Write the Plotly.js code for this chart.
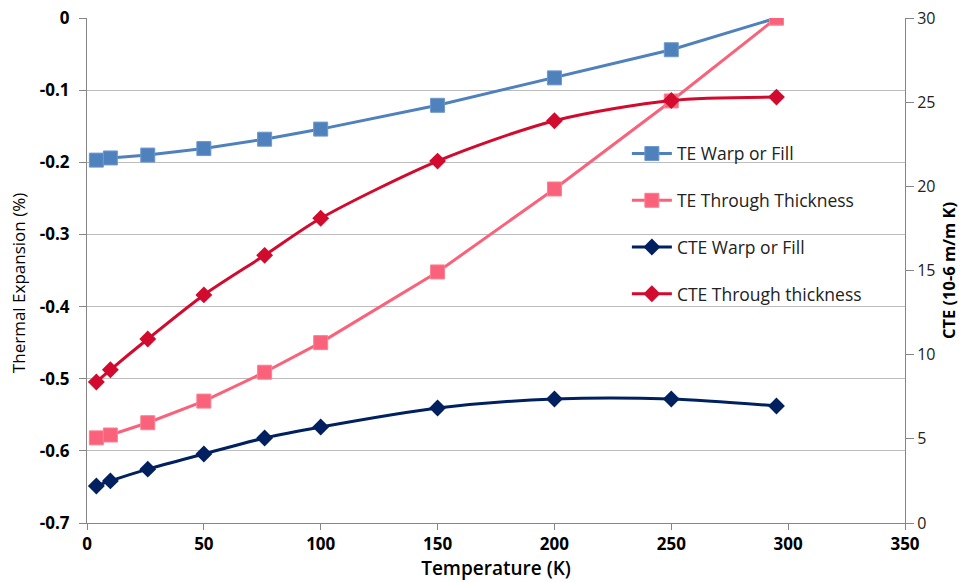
<!DOCTYPE html>
<html>
<head>
<meta charset="utf-8">
<script src="https://cdn.plot.ly/plotly-3.0.1.min.js"></script>
<style>html,body{margin:0;padding:0;background:#fff;}#chart{width:960px;height:582px;}</style>
</head>
<body>
<div id="chart"></div>
<script>
const temperature = [4, 10, 26, 50, 76, 100, 150, 200, 250, 295];
const teWarpFill = [-0.197, -0.194, -0.190, -0.181, -0.168, -0.154, -0.121, -0.083, -0.044, 0];
const teThroughThickness = [-0.582, -0.578, -0.561, -0.531, -0.491, -0.450, -0.352, -0.237, -0.115, 0];
const cteWarpFill = [2.2, 2.5, 3.2, 4.1, 5.05, 5.7, 6.83, 7.37, 7.37, 6.95];
const cteThroughThickness = [8.38, 9.1, 10.93, 13.55, 15.9, 18.1, 21.5, 23.9, 25.1, 25.3];
const leftTickVals = [0, -0.1, -0.2, -0.3, -0.4, -0.5, -0.6, -0.7];
const leftTickText = ['0', '-0.1', '-0.2', '-0.3', '-0.4', '-0.5', '-0.6', '-0.7'];
const seriesNames = ['TE Warp or Fill', 'TE Through Thickness', 'CTE Warp or Fill', 'CTE Through thickness'];

const font = '"Open Sans", Lato, sans-serif';
const traces = [
  {x: temperature, y: teWarpFill, name: seriesNames[0], legendgroup: 'a', type: 'scatter', mode: 'lines+markers',
   line: {color: '#4F81BD', width: 3}, marker: {symbol: 'square', size: 14, color: '#4F81BD', line: {color: '#6E97CC', width: 1}}},
  {x: temperature, y: teThroughThickness, name: seriesNames[1], legendgroup: 'b', type: 'scatter', mode: 'lines+markers',
   line: {color: '#F9627A', width: 3}, marker: {symbol: 'square', size: 14, color: '#F9627A', line: {color: '#FB8092', width: 1}}},
  {x: temperature, y: cteWarpFill, name: seriesNames[2], legendgroup: 'c', yaxis: 'y2', type: 'scatter', mode: 'lines+markers',
   line: {color: '#002060', width: 3, shape: 'spline', smoothing: 0.8}, marker: {symbol: 'diamond', size: 13, color: '#002060'}},
  {x: temperature, y: cteThroughThickness, name: seriesNames[3], legendgroup: 'd', yaxis: 'y2', type: 'scatter', mode: 'lines+markers',
   line: {color: '#D20A2E', width: 3, shape: 'spline', smoothing: 0.8}, marker: {symbol: 'diamond', size: 13, color: '#D20A2E'}}
];

const layout = {
  width: 960, height: 582,
  margin: {l: 87, r: 55, t: 18, b: 59},
  paper_bgcolor: '#fff', plot_bgcolor: '#fff',
  font: {family: font, color: '#000', size: 15},
  showlegend: true,
  legend: {x: 0.66, y: 0.767, xanchor: 'left', yanchor: 'top', bgcolor: 'rgba(0,0,0,0)',
           font: {family: font, size: 17.5, color: '#222'}, tracegroupgap: 21, itemwidth: 40},
  xaxis: {range: [0, 350], tickvals: [0, 50, 100, 150, 200, 250, 300, 350], showgrid: false, zeroline: false,
          showline: true, linecolor: '#868686', linewidth: 1, ticks: 'outside', ticklen: 6, tickcolor: '#868686',
          tickfont: {family: font, size: 17, weight: 'bold'},
          title: {text: 'Temperature (K)', font: {family: font, size: 19, weight: 600}, standoff: 5}},
  yaxis: {range: [-0.7, 0], tickvals: leftTickVals, ticktext: leftTickText, showgrid: true, gridcolor: '#BDBDBD', gridwidth: 1,
          zeroline: false, showline: true, linecolor: '#868686', ticks: 'outside', ticklen: 7, tickcolor: '#868686',
          ticklabelstandoff: 6,
          tickfont: {family: font, size: 17, weight: 'bold'}},
  yaxis2: {range: [0, 30], overlaying: 'y', side: 'right', tickvals: [0, 5, 10, 15, 20, 25, 30], showgrid: false, zeroline: false,
           showline: true, linecolor: '#868686', ticks: 'outside', ticklen: 8, tickcolor: '#868686',
           tickfont: {family: font, size: 16, color: '#222'},
           title: {text: 'CTE (10-6 m/m K)', font: {family: font, size: 16.5, weight: 'bold'}, standoff: 9}},
  annotations: [
    {text: 'Thermal Expansion (%)', xref: 'paper', yref: 'paper', x: 0, y: 0.475, xanchor: 'center', yanchor: 'middle',
     xshift: -69, textangle: -90, showarrow: false, font: {family: font, size: 17, color: '#000'}}
  ]
};

Plotly.newPlot('chart', traces, layout, {displayModeBar: false, staticPlot: true});
</script>
</body>
</html>
